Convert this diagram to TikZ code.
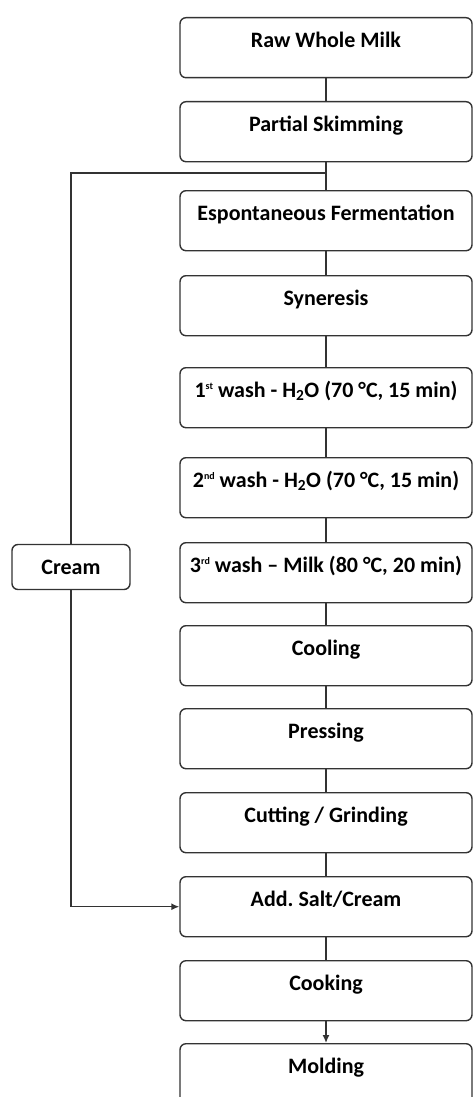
\documentclass[tikz,border=0pt]{standalone}
\usepackage{fontspec}
\setmainfont{Carlito}
\usetikzlibrary{arrows.meta}
% small raised ordinal suffix
\newcommand{\ordsfx}[1]{\raisebox{0.75ex}{\fontsize{10}{10}\selectfont #1}}
\begin{document}
\begin{tikzpicture}[x=1pt,y=-1pt,
  line width=1.4pt,
  stepbox/.style={draw=black!80, rounded corners=6pt, minimum width=292pt,
    inner xsep=0pt, inner ysep=0pt, text height=30pt, text depth=30pt,
    anchor=north, font=\fontsize{22}{26}\selectfont\bfseries},
  sidebox/.style={draw=black!80, rounded corners=6pt, minimum width=118pt,
    minimum height=45pt, inner sep=0pt, font=\fontsize{22}{26}\selectfont\bfseries},
  link/.style={draw=black!80, line width=1.4pt},
  tip/.style={-{Latex[length=8pt,width=7pt]}}]
\frenchspacing
\useasboundingbox (0,0) rectangle (473,1097);
% main process chain
\node[stepbox] (raw)   at (326,17)   {Raw Whole Milk};
\node[stepbox] (skim)  at (326,101)  {Partial Skimming};
\node[stepbox] (ferm)  at (326,190)  {Espontaneous Fermentation};
\node[stepbox] (syn)   at (326,275)  {Syneresis};
\node[stepbox] (w1)    at (326,367)  {1\ordsfx{st} wash - H\textsubscript{2}O (70 °C, 15 min)};
\node[stepbox] (w2)    at (326,457)  {2\ordsfx{nd} wash - H\textsubscript{2}O (70 °C, 15 min)};
\node[stepbox] (w3)    at (326,542)  {3\ordsfx{rd} wash – Milk (80 °C, 20 min)};
\node[stepbox] (cool)  at (326,625)  {Cooling};
\node[stepbox] (press) at (326,708)  {Pressing};
\node[stepbox] (cut)   at (326,792)  {Cutting / Grinding};
\node[stepbox] (salt)  at (326,876)  {Add.\ Salt/Cream};
\node[stepbox] (cook)  at (326,960)  {Cooking};
\node[stepbox] (mold)  at (326,1043) {Molding};
% cream side stream
\node[sidebox] (cream) at (71,567) {Cream};

\draw[link] (raw.south) -- (skim.north);
\draw[link] (skim.south) -- (ferm.north);
\draw[link] (ferm.south) -- (syn.north);
\draw[link] (syn.south) -- (w1.north);
\draw[link] (w1.south) -- (w2.north);
\draw[link] (w2.south) -- (w3.north);
\draw[link] (w3.south) -- (cool.north);
\draw[link] (cool.south) -- (press.north);
\draw[link] (press.south) -- (cut.north);
\draw[link] (cut.south) -- (salt.north);
\draw[link] (salt.south) -- (cook.north);
\draw[link,tip] (cook.south) -- (mold.north);

% skimmed cream goes back in at the salting step
\coordinate (branch) at (326,173);
\draw[link] (branch) -| (cream.north);
\draw[link,tip] (cream.south) |- (salt.west);
\end{tikzpicture}
\end{document}
